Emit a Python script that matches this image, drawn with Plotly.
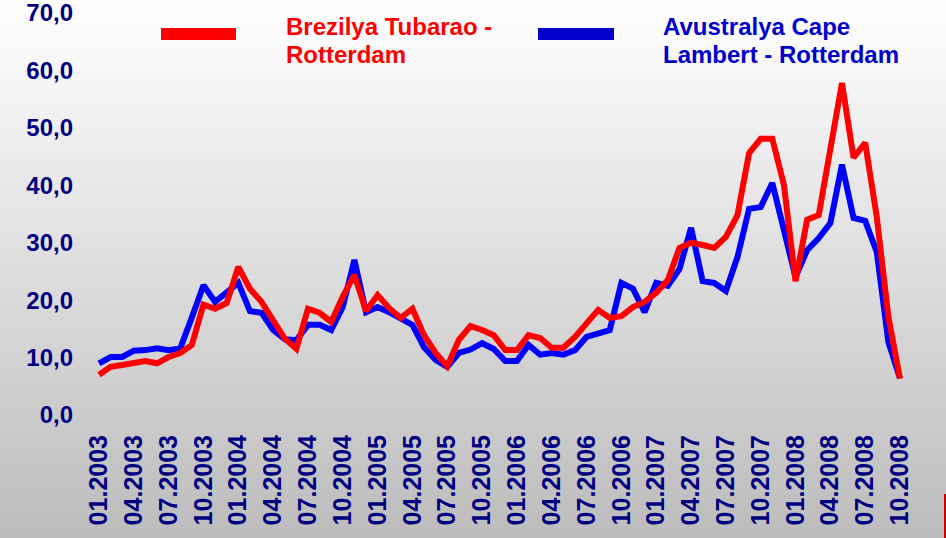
import plotly.graph_objects as go


# monthly categories 01.2003 .. 10.2008
MESES = [f"{m:02d}.{a}" for a in range(2003, 2009) for m in range(1, 13)][:70]
ETIQUETAS_X = MESES[::3]

Y_TICKS = [0, 10, 20, 30, 40, 50, 60, 70]
Y_TEXTOS = ["0,0", "10,0", "20,0", "30,0", "40,0", "50,0", "60,0", "70,0"]

BREZILYA = [
    7.0, 8.4, 8.7, 9.1, 9.4, 9.0, 10.1, 10.8, 12.2, 19.2, 18.5, 19.5,
    25.8, 22.0, 19.7, 16.5, 13.3, 11.5, 18.5, 17.8, 16.2, 20.6, 24.4, 18.1,
    20.9, 18.6, 16.9, 18.5, 13.9, 10.8, 8.5, 13.1, 15.5, 14.8, 13.9, 11.3,
    11.3, 13.9, 13.4, 11.7, 11.7, 13.6, 16.0, 18.3, 16.9, 17.2, 18.8, 19.7,
    21.3, 23.5, 29.1, 30.0, 29.6, 29.1, 31.0, 34.8, 45.6, 48.1, 48.1, 40.1,
    23.3, 34.0, 34.8, 47.0, 57.8, 44.8, 47.4, 34.5, 17.1, 6.3,
]

AVUSTRALYA = [
    9.0, 10.1, 10.1, 11.2, 11.3, 11.6, 11.3, 11.6, 17.0, 22.6, 19.7, 21.4,
    23.0, 18.1, 17.8, 14.8, 13.2, 13.0, 15.7, 15.7, 14.8, 18.8, 27.0, 17.9,
    18.8, 17.9, 16.9, 15.7, 11.8, 9.6, 8.4, 10.8, 11.4, 12.5, 11.5, 9.4,
    9.4, 12.2, 10.5, 10.8, 10.5, 11.3, 13.6, 14.1, 14.8, 23.0, 22.0, 17.9,
    23.0, 22.5, 25.4, 32.6, 23.3, 23.0, 21.6, 27.5, 35.9, 36.2, 40.4, 32.2,
    24.0, 28.7, 30.8, 33.4, 43.6, 34.3, 33.8, 28.4, 12.7, 6.4,
]

LEYENDA_ROJA = ["Brezilya Tubarao -", "Rotterdam"]
LEYENDA_AZUL = ["Avustralya Cape", "Lambert - Rotterdam"]

ANCHO, ALTO = 946, 538
M_IZQ, M_DER, M_SUP, M_INF = 80, 36, 13, 123
AZUL_OSCURO = "#000080"
FUENTE = "Liberation Sans, Arial, sans-serif"


def _px(x):
    return (x - M_IZQ) / (ANCHO - M_IZQ - M_DER)


def _py(y):
    return (ALTO - M_INF - y) / (ALTO - M_SUP - M_INF)


def _fondo_degradado(n=60):
    formas = []
    paso = ALTO / n
    for k in range(n):
        gris = round(255 - (255 - 188) * (k + 0.5) / n)
        formas.append(dict(
            type="rect", xref="paper", yref="paper", layer="below",
            x0=_px(-2), x1=_px(ANCHO + 2), y0=_py(k * paso), y1=_py((k + 1) * paso + 1),
            fillcolor=f"rgb({gris},{gris},{gris})", line=dict(width=0),
        ))
    return formas


def _texto_leyenda(fig, lineas, x, color):
    for linea, y in zip(lineas, (27, 55)):
        fig.add_annotation(
            xref="paper", yref="paper", x=_px(x), y=_py(y), xanchor="left", yanchor="middle",
            text=f"<b>{linea}</b>", showarrow=False,
            font=dict(family=FUENTE, size=24, color=color),
        )


fig = go.Figure()
fig.add_trace(go.Scatter(
    x=MESES, y=AVUSTRALYA, mode="lines", name="Avustralya Cape Lambert - Rotterdam",
    line=dict(color="#0000FF", width=6),
))
fig.add_trace(go.Scatter(
    x=MESES, y=BREZILYA, mode="lines", name="Brezilya Tubarao - Rotterdam",
    line=dict(color="#FF0000", width=6),
))

formas = _fondo_degradado()
# legend samples
formas.append(dict(type="rect", xref="paper", yref="paper", x0=_px(161), x1=_px(236),
                   y0=_py(28), y1=_py(40), fillcolor="#FF0000", line=dict(width=0)))
formas.append(dict(type="rect", xref="paper", yref="paper", x0=_px(538), x1=_px(614),
                   y0=_py(28), y1=_py(40), fillcolor="#0000CC", line=dict(width=0)))
# small red mark at the right edge of the slide
formas.append(dict(type="rect", xref="paper", yref="paper", x0=_px(944), x1=_px(947),
                   y0=_py(494), y1=_py(539), fillcolor="#CC0000", line=dict(width=0)))

_texto_leyenda(fig, LEYENDA_ROJA, 284, "#FF0000")
_texto_leyenda(fig, LEYENDA_AZUL, 661, "#0000CC")

paso_x = (ANCHO - M_IZQ - M_DER - 19 - 10) / 69
fig.update_layout(
    width=ANCHO,
    height=ALTO,
    margin=dict(l=M_IZQ, r=M_DER, t=M_SUP, b=M_INF, autoexpand=False),
    paper_bgcolor="#FFFFFF",
    plot_bgcolor="rgba(0,0,0,0)",
    showlegend=False,
    shapes=formas,
    font=dict(family=FUENTE, color=AZUL_OSCURO),
)
fig.update_xaxes(
    type="category",
    range=[-19 / paso_x, 69 + 10 / paso_x],
    tickmode="array",
    tickvals=ETIQUETAS_X,
    ticktext=[f"<b>{t}</b>" for t in ETIQUETAS_X],
    tickangle=-90,
    tickfont=dict(family=FUENTE, size=25, color=AZUL_OSCURO),
    showgrid=False,
    zeroline=False,
    showline=False,
    ticks="",
    ticklabelstandoff=14,
    ticklabeloverflow="allow",
    automargin=False,
)
fig.update_yaxes(
    range=[0, 70],
    tickmode="array",
    tickvals=Y_TICKS,
    ticktext=[f"<b>{t}</b>" for t in Y_TEXTOS],
    tickfont=dict(family=FUENTE, size=24, color=AZUL_OSCURO),
    showgrid=False,
    zeroline=False,
    showline=False,
    ticks="",
    ticklabelstandoff=6,
    ticklabeloverflow="allow",
    automargin=False,
)

# page body has a default 8px margin; drop it so the figure fills the window
fig.write_html(
    "out.html",
    config={"displayModeBar": False},
    post_script="document.body.style.margin = '0';",
)
